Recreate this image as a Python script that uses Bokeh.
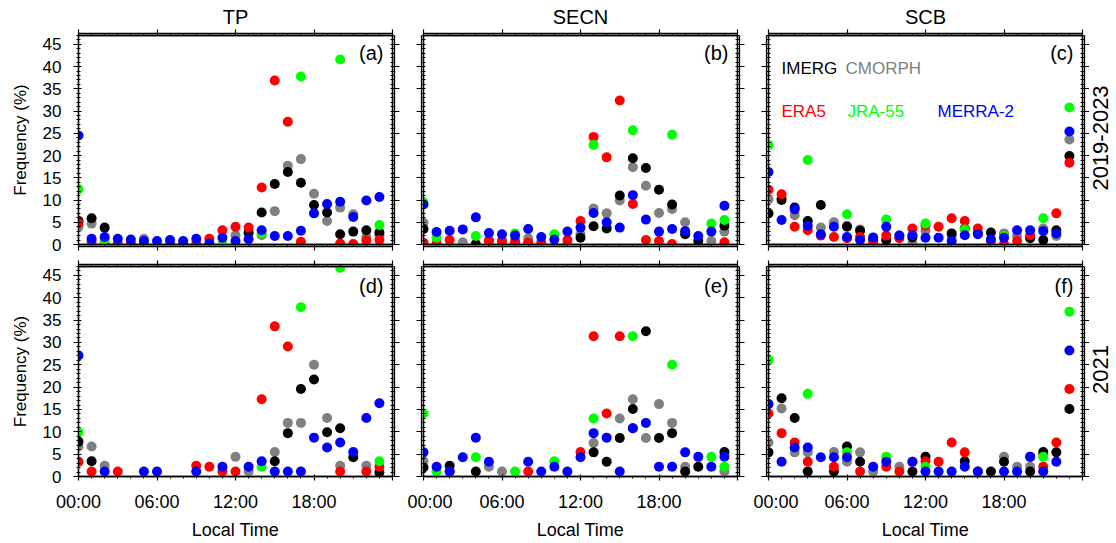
import math
from bokeh.plotting import figure
from bokeh.layouts import gridplot
from bokeh.models import LinearAxis, FixedTicker, Range1d, Label
from bokeh.embed import file_html
from bokeh.resources import INLINE

nan = float("nan")

# ---------------- data ----------------
HOURS = list(range(24))
REGIONS = ["TP", "SECN", "SCB"]
PERIODS = ["2019-2023", "2021"]
PANEL_LABELS = ["(a)", "(b)", "(c)", "(d)", "(e)", "(f)"]
PRODUCTS = ["IMERG", "CMORPH", "ERA5", "JRA-55", "MERRA-2"]
Y_TICKS = [0, 5, 10, 15, 20, 25, 30, 35, 40, 45]
X_TICKS = [0, 6, 12, 18, 24]
X_TICK_LABELS = ["00:00", "06:00", "12:00", "18:00", ""]

# (a) TP 2019-2023
imerg_a = [5.3, 5.9, 3.8, nan, nan, nan, nan, nan, nan, nan, nan, nan, nan, 2.7, 7.2, 13.6, 16.3, 13.9, 8.9, 7.2, 2.3, 2.9, 3.2, 2.7]
cmorph_a = [4.0, 4.7, nan, 0.2, nan, 1.3, nan, nan, nan, nan, nan, nan, 2.1, 2.5, 2.1, 7.5, 17.7, 19.2, 11.4, 5.3, 8.3, 6.8, 1.7, 2.1]
era5_a = [4.8, 0.6, 0.2, 0.1, 0.3, nan, nan, 0.1, 0.1, 0.2, 1.3, 3.2, 4.0, 3.8, 12.8, 36.9, 27.6, 0.6, nan, nan, 0.2, 0.1, 0.9, 1.0]
jra_a = [12.4, nan, 1.0, nan, nan, 0.1, nan, nan, nan, nan, nan, 0.1, nan, nan, 2.5, nan, nan, 37.8, nan, nan, 41.6, nan, nan, 4.4]
merra_a = [24.5, 1.3, 1.7, 1.3, 1.1, 0.8, 0.8, 1.0, 0.8, 1.3, 0.2, 1.5, 0.8, 1.2, 3.2, 1.9, 1.9, 3.1, 7.0, 9.1, 9.6, 6.2, 9.9, 10.7]

# (b) SECN 2019-2023
imerg_b = [3.5, nan, nan, nan, 0.1, nan, nan, 0.1, 0.1, nan, nan, nan, 1.5, 4.1, 3.6, 11.0, 19.4, 17.2, 12.3, 9.0, 2.3, 0.8, nan, 4.2]
cmorph_b = [4.9, nan, nan, 0.5, nan, 1.0, 1.0, 1.0, 1.4, nan, nan, 0.1, 2.3, 8.1, 7.0, 9.9, 17.4, 13.2, 7.1, 8.0, 5.0, nan, 0.8, 2.9]
era5_b = [0.4, 0.2, 1.0, nan, nan, 0.8, 0.6, 0.5, 0.4, 0.4, nan, 1.0, 5.3, 24.2, 19.6, 32.4, 9.1, 1.0, 0.8, 0.1, nan, nan, nan, 0.5]
jra_b = [9.5, 1.5, nan, nan, 1.9, nan, nan, 2.5, nan, nan, 2.3, nan, nan, 22.4, nan, nan, 25.7, nan, nan, 24.7, nan, nan, 4.7, 5.5]
merra_b = [9.0, 2.8, 3.1, 3.4, 6.1, 2.6, 2.3, 2.0, 3.5, 1.7, 1.1, 2.9, 3.8, 7.1, 5.0, 3.8, 11.1, 5.6, 2.9, 3.5, 3.0, 1.9, 2.9, 8.7]

# (c) SCB 2019-2023
imerg_c = [7.0, 10.0, 8.3, 5.3, 8.9, nan, 4.0, 3.1, 1.0, 1.0, nan, 1.6, nan, nan, 2.5, 3.6, 2.6, 2.7, nan, nan, 1.4, 1.0, 3.2, 19.9]
cmorph_c = [10.2, 10.4, 6.6, nan, 3.8, 5.0, 4.2, 3.4, nan, 1.0, 2.0, 0.2, 3.1, nan, 1.9, nan, nan, nan, 2.5, 1.9, nan, 3.6, 1.9, 23.6]
era5_c = [12.3, 11.3, 4.0, 3.2, 2.0, 1.7, 1.4, 1.7, 0.2, 2.0, 1.4, 3.6, 4.2, 4.0, 5.9, 5.3, 3.6, 0.8, 0.1, 0.8, 2.1, nan, 7.0, 18.4]
jra_c = [22.4, nan, nan, 19.0, nan, nan, 6.8, nan, nan, 5.6, nan, nan, 4.7, nan, nan, 3.4, nan, nan, 1.9, nan, nan, 5.9, nan, 30.8]
merra_c = [16.3, 5.5, 7.9, 4.2, 2.3, 4.0, 1.7, 1.0, 1.6, 4.0, 2.0, 2.1, 1.5, 1.5, 0.8, 2.1, 2.3, 1.2, 1.5, 3.2, 3.2, 3.0, 2.5, 25.4]

# (d) TP 2021
imerg_d = [7.8, 3.4, nan, nan, nan, nan, nan, nan, nan, nan, nan, nan, nan, nan, nan, 3.4, 9.7, 19.6, 21.7, 9.9, 10.8, 4.3, nan, 0.9]
cmorph_d = [6.7, 6.7, 2.4, nan, nan, nan, nan, nan, nan, nan, nan, nan, 4.4, 1.1, nan, 5.5, 12.0, 12.0, 25.0, 13.1, 2.4, nan, 2.4, nan]
era5_d = [3.3, 1.1, nan, 1.1, nan, nan, nan, nan, nan, 2.4, 2.2, 1.1, 1.1, nan, 17.3, 33.6, 29.1, nan, nan, nan, 1.1, nan, 1.1, 2.2]
jra_d = [9.9, nan, nan, nan, nan, nan, nan, nan, nan, nan, nan, nan, nan, nan, 2.2, nan, nan, 37.9, nan, nan, 46.7, nan, nan, 3.4]
merra_d = [27.1, nan, 1.1, nan, nan, 1.1, 1.1, nan, nan, 1.1, nan, 2.2, nan, 2.2, 3.4, 1.1, 1.1, 1.1, 8.7, 6.5, 7.6, 5.5, 13.1, 16.4]

# (e) SECN 2021
imerg_e = [2.0, nan, 2.4, nan, 1.1, nan, nan, nan, nan, nan, nan, nan, nan, 5.4, 3.3, 8.6, 15.1, 32.5, 8.6, 9.7, 1.1, 2.2, nan, 5.5]
cmorph_e = [3.4, nan, nan, nan, nan, 2.2, 1.1, nan, nan, nan, nan, nan, nan, 7.5, nan, 13.0, 17.3, 8.6, 16.2, 12.0, 2.2, nan, nan, 1.1]
era5_e = [nan, nan, 1.1, nan, nan, nan, nan, nan, 1.1, nan, nan, nan, 5.5, 31.4, 14.1, 31.4, 10.8, nan, nan, nan, nan, nan, nan, nan]
jra_e = [14.1, 1.1, nan, nan, 4.3, nan, nan, 1.1, nan, nan, 3.4, nan, nan, 13.0, nan, nan, 31.4, nan, nan, 25.0, nan, nan, 4.4, 2.2]
merra_e = [5.4, 2.2, 1.1, 4.3, 8.7, 3.3, nan, nan, 3.3, 1.1, 2.2, 1.1, 4.3, 9.7, 8.7, 1.1, 10.8, 12.0, 2.2, 2.2, 5.4, 4.4, 2.2, 4.4]

# (f) SCB 2021
imerg_f = [5.4, 17.5, 13.1, 1.1, nan, 1.1, 6.7, 3.3, nan, nan, nan, 1.1, 4.4, nan, nan, 3.4, nan, 1.1, 3.3, nan, 1.1, 5.5, 5.4, 15.1]
cmorph_f = [7.6, 15.2, 5.4, 5.4, nan, 5.5, 3.3, 5.4, 1.1, nan, 2.2, nan, nan, nan, nan, nan, nan, nan, 4.4, 2.2, 2.2, 4.9, nan, nan]
era5_f = [14.1, 9.7, 7.6, 3.3, nan, 2.2, nan, 1.1, nan, 2.2, 1.1, 3.3, 3.4, 3.3, 7.6, 5.4, 1.1, nan, nan, nan, 4.4, 2.2, 7.6, 19.6]
jra_f = [26.1, nan, nan, 18.5, nan, nan, 5.4, nan, nan, 4.4, nan, nan, 2.2, nan, nan, nan, nan, nan, nan, nan, nan, 4.4, nan, 36.9]
merra_f = [16.2, 3.3, 6.5, 6.5, 4.3, 4.3, 4.3, nan, 2.2, 3.3, nan, 3.3, 1.1, 1.1, 1.1, 2.2, 1.1, nan, 1.1, 1.1, 4.4, 1.1, 3.3, 28.2]

PANELS = [
    [dict(IMERG=imerg_a, CMORPH=cmorph_a, ERA5=era5_a, JRA=jra_a, MERRA=merra_a),
     dict(IMERG=imerg_b, CMORPH=cmorph_b, ERA5=era5_b, JRA=jra_b, MERRA=merra_b),
     dict(IMERG=imerg_c, CMORPH=cmorph_c, ERA5=era5_c, JRA=jra_c, MERRA=merra_c)],
    [dict(IMERG=imerg_d, CMORPH=cmorph_d, ERA5=era5_d, JRA=jra_d, MERRA=merra_d),
     dict(IMERG=imerg_e, CMORPH=cmorph_e, ERA5=era5_e, JRA=jra_e, MERRA=merra_e),
     dict(IMERG=imerg_f, CMORPH=cmorph_f, ERA5=era5_f, JRA=jra_f, MERRA=merra_f)],
]

# ---------------- style ----------------
FONT = "Liberation Sans"
COL = dict(IMERG="#000000", CMORPH="#808080", ERA5="#ff0000", JRA="#00ff00", MERRA="#0000ff")
DRAW_ORDER = ["CMORPH", "IMERG", "ERA5", "JRA", "MERRA"]
FRAME_W = 314
FRAME_H = [209, 210]
B_LEFT = [78, 16, 15]
B_RIGHT = [15, 16, 6]
B_TOP = [5, 11]
B_BOTTOM = [11, 68]
TITLE_H = 29
STRIP_W = 28
Y_MAX = 47.0
X_MAX = 24.0
MAJ_V = (3, 5)   # (in, out) major ticks on y axes
MIN_V = (2, 2)
MAJ_H = (2, 4)
MIN_H = (0, 2)


def px_x(dpx):
    return dpx * X_MAX / FRAME_W


def px_y(r, dpx):
    return dpx * Y_MAX / FRAME_H[r]


def blank_fig(w, h, bl=0, br=0, bt=0, bb=0):
    f = figure(frame_width=w, frame_height=h,
               x_range=Range1d(0, w), y_range=Range1d(0, h),
               output_backend="svg", toolbar_location=None,
               x_axis_location=None, y_axis_location=None,
               min_border_left=bl, min_border_right=br, min_border_top=bt, min_border_bottom=bb)
    f.xgrid.grid_line_color = None
    f.ygrid.grid_line_color = None
    f.outline_line_color = None
    f.background_fill_color = "white"
    f.border_fill_color = "white"
    return f


def base_axis(ax):
    ax.axis_line_color = "black"
    ax.axis_line_width = 1.3
    ax.major_tick_line_color = "black"
    ax.minor_tick_line_color = "black"
    ax.major_tick_line_width = 1.2
    ax.minor_tick_line_width = 1
    ax.major_label_text_font = FONT
    ax.major_label_text_color = "black"
    ax.axis_label_text_font = FONT
    ax.axis_label_text_font_style = "normal"
    ax.axis_label_text_color = "black"


def tick_only_axes(p, side, majors, minors, vertical):
    """ticks with no labels at all: two overlapping axes with zero extent"""
    maj = MAJ_V if vertical else MAJ_H
    mnr = MIN_V if vertical else MIN_H
    for pos, (tin, tout) in ((minors, mnr), (majors, maj)):
        ax = LinearAxis(ticker=FixedTicker(ticks=[], minor_ticks=pos))
        base_axis(ax)
        ax.major_tick_in = 0
        ax.major_tick_out = 0
        ax.minor_tick_in = tin
        ax.minor_tick_out = tout
        ax.major_label_standoff = 0
        if pos is majors:
            ax.minor_tick_line_width = 1.2
        p.add_layout(ax, side)


def make_panel(r, c):
    p = figure(frame_width=FRAME_W, frame_height=FRAME_H[r],
               x_range=Range1d(0, X_MAX), y_range=Range1d(0, Y_MAX),
               output_backend="svg", toolbar_location=None,
               x_axis_location=None, y_axis_location=None,
               min_border_left=B_LEFT[c], min_border_right=B_RIGHT[c],
               min_border_top=B_TOP[r], min_border_bottom=B_BOTTOM[r])
    p.xgrid.grid_line_color = None
    p.ygrid.grid_line_color = None
    p.outline_line_color = "black"
    p.outline_line_width = 1.3
    p.background_fill_color = "white"
    p.border_fill_color = "white"

    x_minor = list(range(25))
    y_minor = list(range(48))

    # bottom
    if r == 1:
        ax = LinearAxis(ticker=FixedTicker(ticks=X_TICKS, minor_ticks=x_minor),
                        major_label_overrides={t: lab for t, lab in zip(X_TICKS, X_TICK_LABELS)})
        base_axis(ax)
        ax.major_tick_in, ax.major_tick_out = MAJ_H
        ax.minor_tick_in, ax.minor_tick_out = MIN_H
        ax.major_label_text_font_size = "18px"
        ax.major_label_standoff = 11
        ax.axis_label = "Local Time"
        ax.axis_label_text_font_size = "18px"
        ax.axis_label_standoff = 5
        p.add_layout(ax, "below")
    else:
        tick_only_axes(p, "below", X_TICKS, x_minor, False)
    # top
    tick_only_axes(p, "above", X_TICKS, x_minor, False)
    # left
    if c == 0:
        ax = LinearAxis(ticker=FixedTicker(ticks=Y_TICKS, minor_ticks=y_minor))
        base_axis(ax)
        ax.major_tick_in, ax.major_tick_out = MAJ_V
        ax.minor_tick_in, ax.minor_tick_out = MIN_V
        ax.major_label_text_font_size = "17px"
        ax.major_label_standoff = 12
        ax.axis_label = "Frequency (%)"
        ax.axis_label_text_font_size = "17px"
        ax.axis_label_standoff = 10
        p.add_layout(ax, "left")
    else:
        tick_only_axes(p, "left", Y_TICKS, y_minor, True)
    # right
    tick_only_axes(p, "right", Y_TICKS, y_minor, True)

    data = PANELS[r][c]
    for key in DRAW_ORDER:
        p.scatter(HOURS, data[key], size=10, fill_color=COL[key], line_color=None)

    # panel letter
    dy_letter = 17.7 if r == 0 else 19.0
    p.add_layout(Label(x=X_MAX - px_x(9), y=Y_MAX - px_y(r, dy_letter),
                       text=PANEL_LABELS[r * 3 + c], text_font=FONT, text_font_size="20px",
                       text_align="right", text_baseline="middle", text_color="black"))
    # legend text in (c)
    if r == 0 and c == 2:
        y1 = Y_MAX - px_y(r, 32.7)
        y2 = Y_MAX - px_y(r, 76)
        items = [("IMERG", 13, y1, COL["IMERG"]), ("CMORPH", 77, y1, COL["CMORPH"]),
                 ("ERA5", 13, y2, COL["ERA5"]), ("JRA-55", 79, y2, COL["JRA"]),
                 ("MERRA-2", 169, y2, COL["MERRA"])]
        for txt, dx, yy, colr in items:
            p.add_layout(Label(x=px_x(dx), y=yy, text=txt, text_font=FONT,
                               text_font_size="17px", text_align="left",
                               text_baseline="middle", text_color=colr))
    return p


def make_title(c):
    t = blank_fig(FRAME_W, TITLE_H, bl=B_LEFT[c], br=B_RIGHT[c])
    t.add_layout(Label(x=FRAME_W / 2, y=TITLE_H - 16, text=REGIONS[c],
                       text_font=FONT, text_font_size="20px", text_align="center",
                       text_baseline="middle", text_color="black"))
    return t


def make_strip(r):
    s = blank_fig(STRIP_W, FRAME_H[r], bt=B_TOP[r], bb=B_BOTTOM[r])
    s.add_layout(Label(x=11, y=FRAME_H[r] / 2 + 2, text=PERIODS[r], text_font=FONT,
                       text_font_size="22px", text_align="center", text_baseline="middle",
                       angle=90, angle_units="deg", text_color="black"))
    return s


rows = [[make_title(c) for c in range(3)] + [blank_fig(STRIP_W, TITLE_H)]]
rows += [[make_panel(r, c) for c in range(3)] + [make_strip(r)] for r in range(2)]
grid = gridplot(rows, toolbar_location=None)

open("out.html", "w").write(file_html(grid, INLINE))
